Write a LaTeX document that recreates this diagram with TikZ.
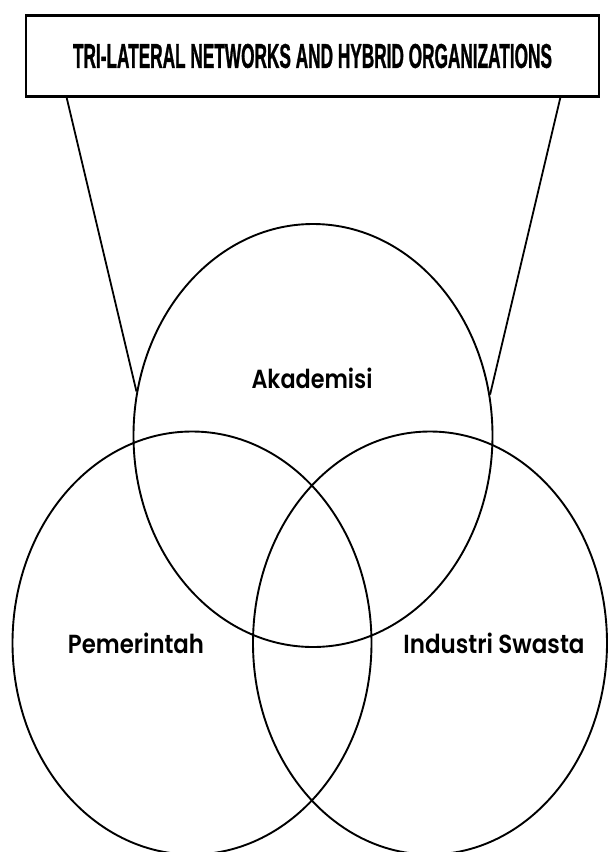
\documentclass[tikz,border=0pt]{standalone}
\usepackage{fontspec}
\usepackage{graphicx}
\usetikzlibrary{shapes.geometric}
\newfontfamily\titlefont{Liberation Sans}[UprightFont=*-Bold,FakeBold=1.5]
\newfontfamily\labfont{Poppins}[UprightFont=*-SemiBold]
\begin{document}
\begin{tikzpicture}[x=1pt,y=-1pt,
  venn/.style={ellipse,draw,line width=1.9pt,inner sep=0pt,minimum width=359pt,minimum height=423pt},
  titlebox/.style={draw,line width=2.6pt,rectangle,inner sep=0pt,minimum width=573pt,minimum height=81pt},
  lab/.style={anchor=base,inner sep=0pt},
  link/.style={line width=1.8pt}]
\useasboundingbox (0,0) rectangle (608,852);
\node[titlebox] (title) at (312.5,56) {\resizebox{479pt}{24pt}{\titlefont TRI-LATERAL NETWORKS AND HYBRID ORGANIZATIONS}};
\node[venn] (akad) at (313,435.5) {};
\node[venn] (pem) at (192,643) {};
\node[venn,minimum width=354pt] (ind) at (430,643) {};
\node[lab] (lakad) at (312,388.5) {\resizebox{121pt}{20.5pt}{\labfont Akademisi}};
\node[lab] (lpem) at (136,653) {\resizebox{136pt}{20.5pt}{\labfont Pemerintah}};
\node[lab] (lind) at (494,653) {\resizebox{181pt}{20.5pt}{\labfont Industri Swasta}};
\coordinate (tl) at ([xshift=42pt]title.south west);
\coordinate (tr) at ([xshift=-40pt]title.south east);
\draw[link] (tl) -- (akad.166.4);
\draw[link] (tr) -- (akad.13);
\end{tikzpicture}
\end{document}
